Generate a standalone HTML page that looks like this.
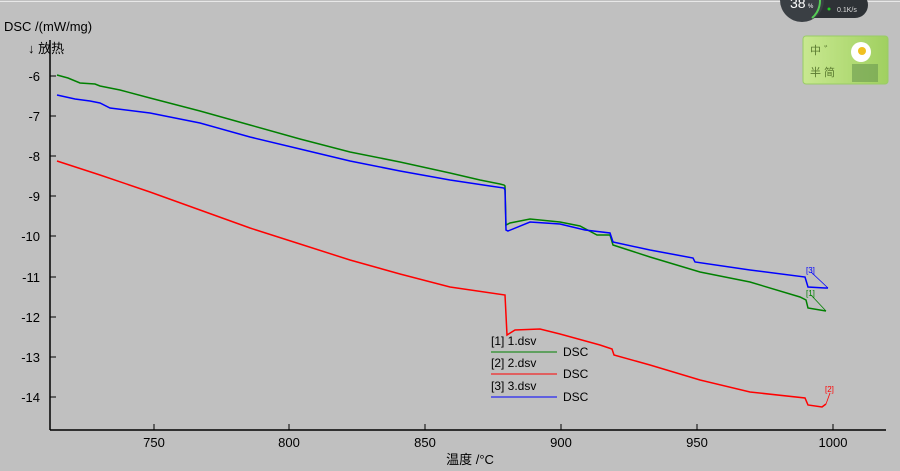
<!DOCTYPE html>
<html><head><meta charset="utf-8"><style>
body{margin:0;background:#c0c0c0;}
svg{display:block;font-family:"Liberation Sans","Noto Sans CJK SC",sans-serif;}
</style></head><body>
<svg width="900" height="471" viewBox="0 0 900 471" xmlns="http://www.w3.org/2000/svg">
<rect width="900" height="471" fill="#c0c0c0"/>
<line x1="0" y1="1.5" x2="900" y2="1.5" stroke="#e8e8e8" stroke-width="1"/>
<!-- axes -->
<line x1="50" y1="40" x2="50" y2="430" stroke="#000" stroke-width="1.5"/>
<line x1="50" y1="430" x2="886" y2="430" stroke="#000" stroke-width="1.5"/>
<g stroke="#000" stroke-width="1">
<line x1="50" y1="76" x2="56" y2="76"/><line x1="50" y1="116" x2="56" y2="116"/><line x1="50" y1="156" x2="56" y2="156"/><line x1="50" y1="196" x2="56" y2="196"/><line x1="50" y1="236" x2="56" y2="236"/><line x1="50" y1="277" x2="56" y2="277"/><line x1="50" y1="317" x2="56" y2="317"/><line x1="50" y1="357" x2="56" y2="357"/><line x1="50" y1="397" x2="56" y2="397"/>
<line x1="154" y1="430" x2="154" y2="424"/><line x1="289" y1="430" x2="289" y2="424"/><line x1="425" y1="430" x2="425" y2="424"/><line x1="561" y1="430" x2="561" y2="424"/><line x1="697" y1="430" x2="697" y2="424"/><line x1="833" y1="430" x2="833" y2="424"/>
</g>
<g font-size="13" fill="#000" text-anchor="end">
<text x="40" y="81">-6</text><text x="40" y="121">-7</text><text x="40" y="161">-8</text><text x="40" y="201">-9</text><text x="40" y="241">-10</text><text x="40" y="282">-11</text><text x="40" y="322">-12</text><text x="40" y="362">-13</text><text x="40" y="402">-14</text>
</g>
<g font-size="13" fill="#000" text-anchor="middle">
<text x="154" y="447">750</text><text x="289" y="447">800</text><text x="425" y="447">850</text><text x="561" y="447">900</text><text x="697" y="447">950</text><text x="833" y="447">1000</text>
<text x="470" y="464">温度 /°C</text>
</g>
<text x="4" y="31" font-size="13" fill="#000">DSC /(mW/mg)</text>
<text x="28" y="53" font-size="13" fill="#000">↓ 放热</text>
<!-- series -->
<polyline fill="none" stroke="#008000" stroke-width="1.5" points="57,75 68,78 80,83 95,84 100,86 120,90 150,98 200,111 250,125 300,139 350,152 400,162 450,173 480,180 500,184 504,185 505,186 506,225 510,223 530,219 560,222 580,226 597,235 610,235 613,245 650,257 700,272 750,282 800,297 806,300 808,308 820,310 826,311"/>
<polyline fill="none" stroke="#0000ff" stroke-width="1.5" points="57,95 75,99 90,101 100,103 110,108 150,113 200,123 250,137 300,149 350,161 400,171 450,180 490,186 504,188 505,190 506,230 508,231 530,222 560,224 585,230 610,233 613,242 650,250 693,258 695,262 750,270 805,277 808,287 825,288 828,288"/>
<polyline fill="none" stroke="#ff0000" stroke-width="1.5" points="57,161 100,175 150,192 200,210 250,228 300,244 350,260 400,274 450,287 505,295 507,335 515,330 540,329 560,334 600,345 612,349 614,355 650,365 700,380 750,392 805,398 808,405 822,407 826,404"/>
<g stroke-width="0.8" fill="none">
<line x1="811" y1="272" x2="828" y2="288" stroke="#0000ff"/>
<line x1="811" y1="295" x2="826" y2="311" stroke="#008000"/>
<line x1="830" y1="393" x2="826" y2="404" stroke="#ff0000"/>
</g>
<g font-size="8">
<text x="806" y="273" fill="#0000ff">[3]</text>
<text x="806" y="296" fill="#008000">[1]</text>
<text x="825" y="392" fill="#ff0000">[2]</text>
</g>
<!-- legend -->
<g font-size="12" fill="#000">
<text x="491" y="345">[1] 1.dsv</text><text x="563" y="356">DSC</text>
<text x="491" y="367">[2] 2.dsv</text><text x="563" y="378">DSC</text>
<text x="491" y="390">[3] 3.dsv</text><text x="563" y="401">DSC</text>
</g>
<line x1="491" y1="352" x2="557" y2="352" stroke="#008000"/>
<line x1="491" y1="374" x2="557" y2="374" stroke="#ff0000"/>
<line x1="491" y1="397" x2="557" y2="397" stroke="#0000ff"/>
<!-- gauge -->
<rect x="800" y="-8" width="68" height="26" rx="13" fill="#2e3236"/>
<circle cx="802" cy="0" r="22" fill="#3a3f44"/>
<path d="M818 -8 A22 22 0 0 1 812 18" stroke="#5c5" stroke-width="2" fill="none"/>
<text x="790" y="8" font-size="14" fill="#fff">38</text>
<text x="808" y="8" font-size="6" fill="#fff">%</text>
<circle cx="829" cy="9" r="1.5" fill="#2c2"/>
<text x="837" y="12" font-size="7" fill="#ddd">0.1K/s</text>
<!-- logo -->
<defs><linearGradient id="g" x1="0" x2="1"><stop offset="0" stop-color="#c8e890"/><stop offset="1" stop-color="#a0d060"/></linearGradient></defs>
<rect x="803" y="36" width="85" height="48" rx="3" fill="url(#g)" stroke="#9c6" stroke-width="1"/>
<circle cx="861" cy="52" r="10" fill="#fff"/><circle cx="862" cy="51" r="4" fill="#f0c020"/>
<rect x="852" y="64" width="26" height="18" fill="#6a9a50" opacity="0.6"/>
<text x="810" y="54" font-size="11" fill="#5a7a30">中 ゛</text>
<text x="810" y="76" font-size="11" fill="#5a7a30">半 简</text>
</svg>
</body></html>
